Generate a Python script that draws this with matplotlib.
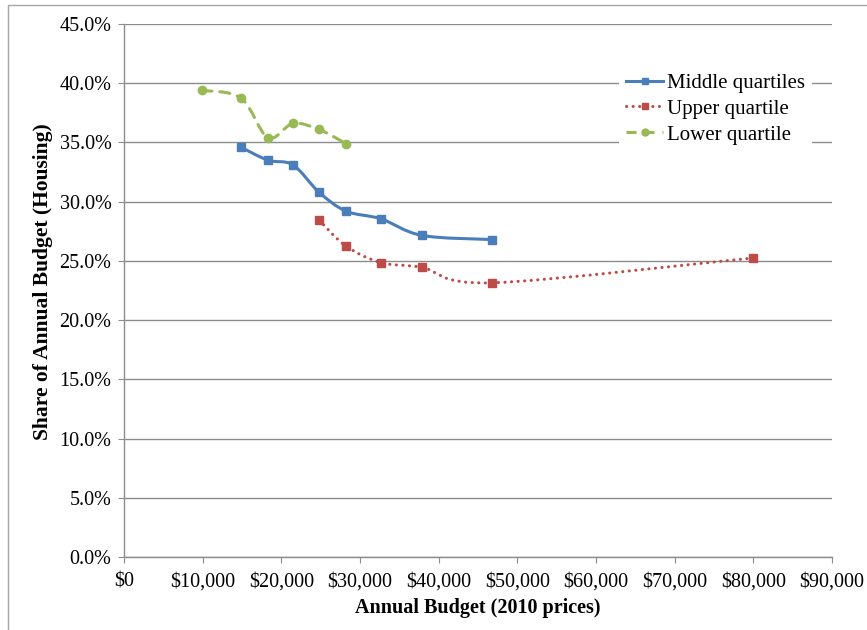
import numpy as np
import matplotlib
matplotlib.use("Agg")
import matplotlib.pyplot as plt
from matplotlib.path import Path
from matplotlib.patches import PathPatch, Rectangle
from matplotlib.lines import Line2D
from matplotlib.ticker import FuncFormatter

plt.rcParams['font.family'] = ['Liberation Serif', 'DejaVu Serif']

# Annual budget (2010 prices) and housing share (%) per quartile group
middle_x = [14870, 18300, 21480, 24790, 28220, 32670, 37880, 46780]
middle_y = [34.6, 33.5, 33.1, 30.8, 29.2, 28.55, 27.15, 26.8]

upper_x = [24790, 28220, 32670, 37880, 46780, 79950]
upper_y = [28.45, 26.25, 24.85, 24.45, 23.15, 25.25]

lower_x = [9900, 14870, 18300, 21480, 24790, 28220]
lower_y = [39.4, 38.75, 35.4, 36.6, 36.1, 34.9]

series_names = ["Middle quartiles", "Upper quartile", "Lower quartile"]
x_ticks = list(range(0, 90001, 10000))
y_ticks = [i * 5.0 for i in range(10)]

BLUE = "#4A7EBB"
RED = "#BE4B48"
GREEN = "#98B954"


def smooth_path(xs, ys):
    """Bezier path through the points using Catmull-Rom style control points."""
    pts = np.column_stack([xs, ys]).astype(float)
    n = len(pts)
    verts = [pts[0]]
    codes = [Path.MOVETO]
    for i in range(n - 1):
        p0 = pts[i - 1] if i > 0 else pts[i]
        p1 = pts[i]
        p2 = pts[i + 1]
        p3 = pts[i + 2] if i + 2 < n else pts[i + 1]
        c1 = p1 + (p2 - p0) / 6.0
        c2 = p2 - (p3 - p1) / 6.0
        verts += [c1, c2, p2]
        codes += [Path.CURVE4] * 3
    return Path(verts, codes)


fig = plt.figure(figsize=(8.67, 6.3), dpi=100)
ax = fig.add_axes([124 / 867, 1 - 557 / 630, (832 - 124) / 867, (557 - 24) / 630])

# chart-area border
fig.patches.append(Rectangle((8 / 867, -0.01), 1.0, 1 - 5 / 630 + 0.01,
                             transform=fig.transFigure, fill=False,
                             edgecolor="#A6A6A6", linewidth=1.0, zorder=0))

RED_DOTS = (0, (0.05, 2.1))
GREEN_DASH = (0, (3.3, 2.6))

styles = [
    (middle_x, middle_y, BLUE, "-", "s", 2.2, 6.0),
    (upper_x, upper_y, RED, RED_DOTS, "s", 2.2, 6.0),
    (lower_x, lower_y, GREEN, GREEN_DASH, "o", 2.2, 6.0),
]

for (xs, ys, col, ls, mk, lw, ms) in styles:
    patch = PathPatch(smooth_path(xs, ys), facecolor="none", edgecolor=col,
                      linewidth=lw, linestyle=ls, capstyle="round", zorder=3)
    ax.add_patch(patch)
    ax.plot(xs, ys, linestyle="none", marker=mk, markersize=ms,
            color=col, zorder=4)

ax.set_xlim(0, 90000)
ax.set_ylim(0, 45)
ax.set_xticks(x_ticks)
ax.set_yticks(y_ticks)
ax.xaxis.set_major_formatter(FuncFormatter(lambda v, p: "${:,.0f}".format(v)))
ax.yaxis.set_major_formatter(FuncFormatter(lambda v, p: "{:.1f}%".format(v)))

ax.grid(axis="y", color="#8C8C8C", linewidth=1.0)
ax.set_axisbelow(True)
for s in ["top", "right"]:
    ax.spines[s].set_visible(False)
for s in ["left", "bottom"]:
    ax.spines[s].set_color("#8C8C8C")
    ax.spines[s].set_linewidth(1.0)
ax.tick_params(axis="both", direction="out", length=4, color="#8C8C8C",
               labelsize=14.5, labelcolor="black")
ax.tick_params(axis="x", pad=7)
ax.tick_params(axis="y", pad=5)

ax.set_xlabel("Annual Budget (2010 prices)", fontsize=14.5, fontweight="bold",
              labelpad=5)
ax.set_ylabel("Share of Annual Budget (Housing)", fontsize=15.5,
              fontweight="bold")
ax.yaxis.set_label_coords(-0.1, 0.516)

handles = [
    Line2D([], [], color=BLUE, lw=2.2, ls="-", marker="s", markersize=5),
    Line2D([], [], color=RED, lw=2.2, ls=RED_DOTS, marker="s",
           markersize=5, dash_capstyle="round"),
    Line2D([], [], color=GREEN, lw=2.2, ls=GREEN_DASH, marker="o",
           markersize=5),
]
leg = ax.legend(handles, series_names, loc="upper left",
                bbox_to_anchor=((619 - 124) / 708, 1 - (66 - 24) / 533),
                frameon=True, fancybox=False, framealpha=1.0,
                edgecolor="white", fontsize=15, handlelength=1.75,
                handletextpad=0.2, labelspacing=0.3, borderpad=0.35,
                borderaxespad=0)
leg.get_frame().set_linewidth(0)

fig.savefig("out.png", dpi=100)
